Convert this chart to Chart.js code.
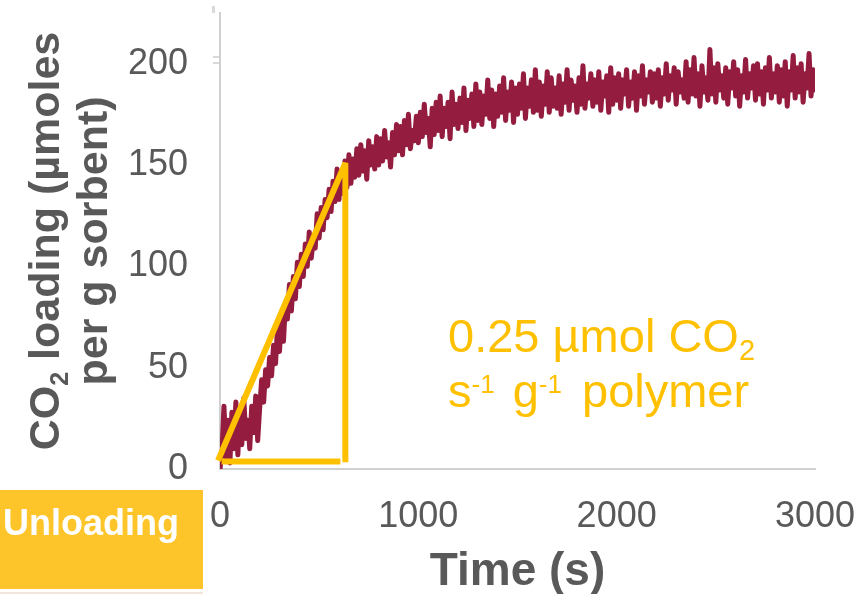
<!DOCTYPE html>
<html>
<head>
<meta charset="utf-8">
<script src="https://cdn.jsdelivr.net/npm/chart.js@4/dist/chart.umd.min.js"></script>
<style>
  html, body { margin: 0; padding: 0; background: #fff; }
  canvas { display: block; }
</style>
</head>
<body>
<canvas id="chart" width="866" height="594"></canvas>
<script>
// sampling of the loading trace (s)
const sampleStep = 10;

// CO2 loading, µmol per g sorbent, one value every 10 s from 0 to 3000 s
const loading = [
  0, 9, 31, 6, 24, 3, 28, 10, 33, 7,
  29, 12, 35, 15, 24, 10, 31, 18, 36, 14,
  30, 44, 33, 49, 41, 55, 46, 61, 52, 70,
  58, 76, 63, 82, 74, 91, 78, 95, 84, 102,
  90, 106, 95, 111, 100, 117, 104, 113, 109, 126,
  114, 129, 118, 133, 124, 138, 127, 142, 132, 148,
  133, 147, 136, 152, 139, 155, 141, 153, 144, 158,
  145, 160, 147, 157, 143, 162, 150, 159, 148, 164,
  150, 163, 152, 167, 154, 161, 149, 166, 155, 170,
  157, 169, 155, 172, 160, 175, 158, 167, 162, 174,
  161, 176, 164, 180, 166, 173, 159, 178, 165, 181,
  167, 184, 164, 178, 169, 181, 163, 186, 170, 180,
  168, 183, 171, 188, 167, 182, 173, 185, 169, 190,
  172, 186, 170, 184, 175, 192, 173, 187, 169, 185,
  174, 189, 176, 193, 172, 186, 177, 191, 171, 188,
  175, 190, 178, 195, 173, 188, 179, 192, 176, 197,
  177, 191, 174, 189, 180, 196, 176, 193, 179, 188,
  178, 194, 175, 190, 181, 197, 177, 192, 182, 189,
  176, 193, 180, 199, 178, 190, 183, 195, 179, 192,
  181, 196, 177, 191, 184, 194, 176, 198, 180, 193,
  182, 195, 178, 192, 185, 197, 179, 191, 183, 196,
  177, 194, 184, 199, 180, 192, 186, 196, 181, 195,
  183, 197, 179, 193, 185, 200, 182, 194, 187, 198,
  180, 196, 186, 192, 183, 201, 181, 197, 185, 203,
  184, 195, 179, 199, 186, 193, 182, 207, 185, 198,
  181, 200, 187, 194, 183, 198, 180, 196, 188, 201,
  184, 197, 179, 194, 186, 202, 183, 195, 188, 199,
  182, 200, 185, 196, 180, 198, 187, 203, 183, 195,
  186, 199, 181, 197, 184, 201, 179, 196, 187, 204,
  183, 198, 186, 200, 181, 195, 188, 205, 184, 197,
  187
];

// slope triangle drawn over the initial uptake
const slopeX = [-10, 632, 632];
const slopeY = [4.2, 151, 3.3];
const baseX = [8, 607];
const baseY = [3.7, 3.7];

const yTicks = [0, 50, 100, 150, 200];
const xTicks = [0, 1000, 2000, 3000];

const GREY = '#595959';
const YELLOW = '#FFC000';
const MAROON = '#941D3F';
const FONT = "'Liberation Sans', Arial, sans-serif";

const tracePoints = loading.map((v, i) => ({ x: i * sampleStep, y: v }));
const slopePoints = slopeX.map((x, i) => ({ x: x, y: slopeY[i] }));
const basePoints = baseX.map((x, i) => ({ x: x, y: baseY[i] }));

// draws a row of text pieces (for sub/superscripts)
function drawRuns(ctx, x, y, runs) {
  let cx = x;
  runs.forEach(r => {
    ctx.font = r.font;
    cx += r.dx || 0;
    ctx.fillText(r.text, cx, y + (r.dy || 0));
    cx += ctx.measureText(r.text).width;
  });
}
function runsWidth(ctx, runs) {
  let w = 0;
  runs.forEach(r => { ctx.font = r.font; w += ctx.measureText(r.text).width + (r.dx || 0); });
  return w;
}

const textPlugin = {
  id: 'texts',
  afterDraw(chart) {
    const ctx = chart.ctx;
    const area = chart.chartArea;
    ctx.save();
    ctx.textAlign = 'left';
    ctx.textBaseline = 'alphabetic';

    // stray marks left of the y axis top
    ctx.fillStyle = '#D9D9D9';
    ctx.fillRect(212, 6, 3, 7);
    ctx.fillRect(213, 56, 6, 2);
    ctx.fillRect(213, 62, 6, 2);

    // y axis title, two rotated lines
    const midY = (area.top + area.bottom) / 2;
    const line1 = [
      { text: 'CO', font: 'bold 43px ' + FONT },
      { text: '2', font: 'bold 25px ' + FONT, dy: 9 },
      { text: ' loading (µmoles', font: 'bold 43px ' + FONT }
    ];
    const line2 = [{ text: 'per g sorbent)', font: 'bold 43px ' + FONT }];
    ctx.fillStyle = GREY;
    [[line1, 59], [line2, 107]].forEach(([runs, bx]) => {
      ctx.save();
      ctx.translate(bx, midY);
      ctx.rotate(-Math.PI / 2);
      drawRuns(ctx, -runsWidth(ctx, runs) / 2, 0, runs);
      ctx.restore();
    });

    // x axis title
    ctx.font = 'bold 46px ' + FONT;
    ctx.textAlign = 'center';
    ctx.fillText('Time (s)', (area.left + area.right) / 2, 585);
    ctx.textAlign = 'left';

    // rate annotation
    ctx.fillStyle = YELLOW;
    drawRuns(ctx, 448, 352, [
      { text: '0.25 µmol CO', font: '47px ' + FONT },
      { text: '2', font: '29px ' + FONT, dy: 8 }
    ]);
    drawRuns(ctx, 448, 407, [
      { text: 's', font: '47px ' + FONT },
      { text: '-1', font: '26px ' + FONT, dy: -14 },
      { text: ' g', font: '47px ' + FONT, dx: 5 },
      { text: '-1', font: '26px ' + FONT, dy: -14 },
      { text: ' polymer', font: '47px ' + FONT, dx: 7 }
    ]);

    // "Unloading" tag
    ctx.fillStyle = '#FDC52A';
    ctx.fillRect(0, 490, 203, 99);
    ctx.fillStyle = '#F1E6DC';
    ctx.fillRect(0, 592, 203, 2);
    ctx.fillStyle = '#FFFFFF';
    ctx.font = 'bold 36px ' + FONT;
    ctx.fillText('Unloading', 3, 535);

    ctx.restore();
  }
};

new Chart(document.getElementById('chart'), {
  type: 'line',
  data: {
    datasets: [
      {
        data: slopePoints,
        borderColor: YELLOW,
        borderWidth: 6,
        borderJoinStyle: 'bevel',
        pointRadius: 0,
        tension: 0,
        clip: false
      },
      {
        data: basePoints,
        borderColor: YELLOW,
        borderWidth: 6,
        pointRadius: 0,
        tension: 0,
        clip: false
      },
      {
        data: tracePoints,
        borderColor: MAROON,
        borderWidth: 5,
        borderJoinStyle: 'round',
        borderCapStyle: 'round',
        pointRadius: 0,
        tension: 0
      }
    ]
  },
  options: {
    responsive: false,
    animation: false,
    devicePixelRatio: 1,
    layout: { padding: { left: 0, top: 13, right: 51, bottom: 0 } },
    plugins: {
      legend: { display: false },
      tooltip: { enabled: false }
    },
    scales: {
      x: {
        type: 'linear',
        min: 0,
        max: 3000,
        afterFit: s => {
          s.height = 125;
          s.paddingLeft = 0; s.paddingRight = 0;
          s.paddingTop = 0; s.paddingBottom = 0;
        },
        afterBuildTicks: s => { s.ticks = xTicks.map(v => ({ value: v })); },
        ticks: {
          padding: 26,
          color: GREY,
          font: { family: FONT, size: 36 },
          callback: v => String(v)
        },
        grid: { display: false, drawTicks: false },
        border: { display: true, color: '#D0D0D0', width: 2 }
      },
      y: {
        min: 0,
        max: 225,
        afterFit: s => {
          s.width = 220;
          s.paddingLeft = 0; s.paddingRight = 0;
          s.paddingTop = 0; s.paddingBottom = 0;
        },
        afterBuildTicks: s => { s.ticks = yTicks.map(v => ({ value: v })); },
        ticks: {
          padding: 32,
          color: GREY,
          font: { family: FONT, size: 36 }
        },
        grid: { display: false, drawTicks: false },
        border: { display: true, color: '#D0D0D0', width: 2 }
      }
    }
  },
  plugins: [textPlugin]
});
</script>
</body>
</html>
